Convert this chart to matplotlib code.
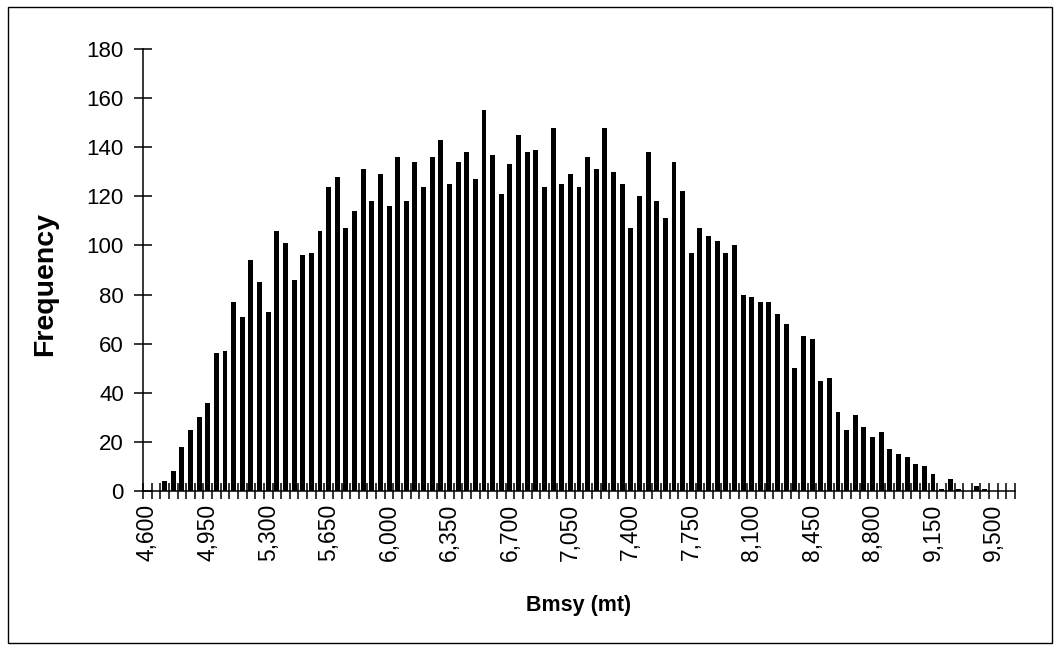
import numpy as np
import matplotlib
matplotlib.use("Agg")
import matplotlib.pyplot as plt
from matplotlib.patches import Rectangle
from matplotlib.ticker import FixedLocator

plt.rcParams['font.family'] = ['Liberation Sans', 'DejaVu Sans']

# bin starts of Bmsy (mt), 50 mt wide
bins = list(range(4600, 9650, 50))
freq = [0, 0,
        4, 8, 18, 25, 30, 36, 56, 57, 77, 71, 94, 85, 73, 106, 101,
        86, 96, 97, 106, 124, 128, 107, 114, 131, 118, 129, 116, 136, 118, 134, 124, 136,
        143, 125, 134, 138, 127, 155, 137, 121, 133, 145, 138, 139, 124, 148, 125, 129, 124,
        136, 131, 148, 130, 125, 107, 120, 138, 118, 111, 134, 122, 97, 107, 104, 102,
        97, 100, 80, 79, 77, 77, 72, 68, 50, 63, 62, 45, 46, 32, 25, 31, 26,
        22, 24, 17, 15, 14, 11, 10, 7, 1, 5, 1, 0, 2, 1,
        0, 0, 0]
label_every = 7

fig = plt.figure(figsize=(10.6, 6.5), dpi=100)
ax = fig.add_axes([143/1060, 1 - 491/650, 872/1060, 442/650])

x = np.arange(len(bins))
ax.bar(x, freq, width=0.57, color='black', zorder=2)

ax.set_xlim(-0.5, len(bins) - 0.5)
ax.set_ylim(0, 180)
ax.set_yticks(range(0, 181, 20))

# labels every 7th category, tick marks at every category boundary
ax.xaxis.set_major_locator(FixedLocator(x[::label_every]))
ax.set_xticklabels([f"{b:,}" for b in bins[::label_every]], rotation=90)
ax.xaxis.set_minor_locator(FixedLocator(np.arange(len(bins) + 1) - 0.5))
ax.tick_params(axis='x', which='major', length=0, pad=9, labelsize=16.5)
ax.tick_params(axis='x', which='minor', direction='inout', length=11.5, width=1.1)
ax.tick_params(axis='y', direction='inout', length=13.5, width=1.1, pad=7, labelsize=16)

for s in ['top', 'right']:
    ax.spines[s].set_visible(False)
for s in ['left', 'bottom']:
    ax.spines[s].set_linewidth(1.1)
    ax.spines[s].set_zorder(3)

fig.text(579/1060, 1 - 606/650, "Bmsy (mt)", ha='center', va='center',
         fontsize=15.5, fontweight='bold')
fig.text(45/1060, 1 - 284/650, "Frequency", ha='center', va='center',
         rotation=90, fontsize=20.5, fontweight='bold')

fig.patches.append(Rectangle((8/1060, 7/650), 1044/1060, 636/650, transform=fig.transFigure,
                             fill=False, edgecolor='black', lw=1))

fig.savefig("out.png", dpi=100)
